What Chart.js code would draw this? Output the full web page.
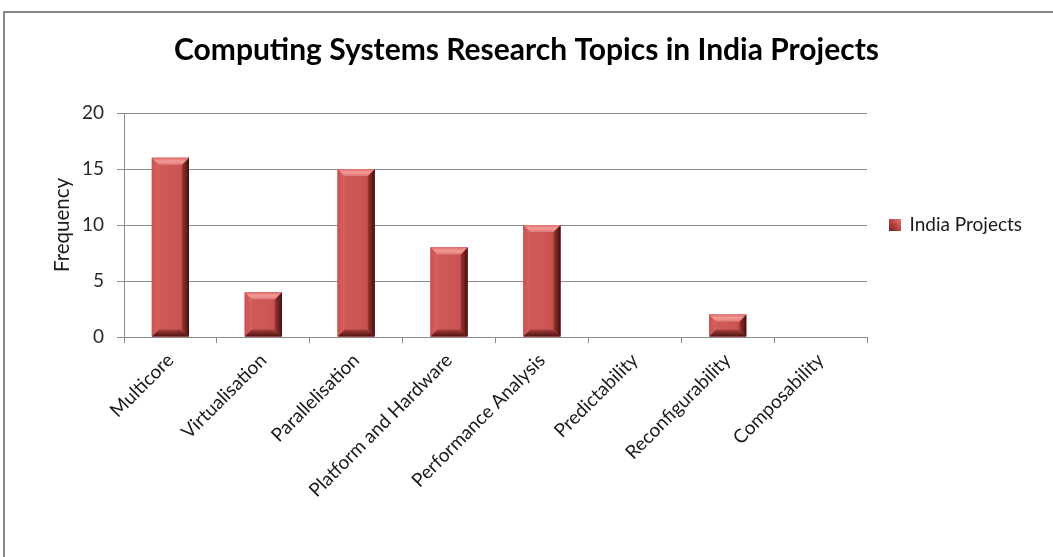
<!DOCTYPE html>
<html>
<head>
<meta charset="utf-8">
<title>Computing Systems Research Topics in India Projects</title>
<script src="https://cdn.jsdelivr.net/npm/chart.js@4/dist/chart.umd.min.js"></script>
<style>
  html, body { margin: 0; padding: 0; background: #fff; overflow: hidden; }
  #wrap { position: relative; width: 1053px; height: 557px; }
</style>
</head>
<body>
<div id="wrap"><canvas id="chart" width="1053" height="557"></canvas></div>
<script>
// Research topics and how often each appears
const topics = [
  'Multicore',
  'Virtualisation',
  'Parallelisation',
  'Platform and Hardware',
  'Performance Analysis',
  'Predictability',
  'Reconfigurability',
  'Composability'
];
const frequencies = [16, 4, 15, 8, 10, 0, 2, 0];
const seriesName = 'India Projects';
const chartTitle = 'Computing Systems Research Topics in India Projects';
const yAxisTitle = 'Frequency';
const yMin = 0, yMax = 20, yStep = 5;

const FONT = 'Lato, Carlito, Calibri, "Open Sans", sans-serif';
const LABEL_SIZE = 19;
const PLOT_LEFT = 124, PLOT_RIGHT = 867, PLOT_BOTTOM = 337;
const LEGEND_PAD = 22, LEGEND_BOX = 11;

// Width of the legend text, used to place the plot's right edge
const mctx = document.createElement('canvas').getContext('2d');
mctx.font = LABEL_SIZE + 'px ' + FONT;
const legendTextW = mctx.measureText(seriesName).width;
const legendW = LEGEND_PAD + LEGEND_BOX + LABEL_SIZE / 2 + legendTextW + 10;
// equal side padding keeps the title centred on the canvas
const sidePad = Math.max(0, 1053 - PLOT_RIGHT - legendW);

// Gradient swatch for the legend entry
function legendSwatch() {
  const s = 12;
  const c = document.createElement('canvas');
  c.width = s; c.height = s;
  const x = c.getContext('2d');
  const g = x.createLinearGradient(0, s, s, 0);
  g.addColorStop(0, '#6e2220');
  g.addColorStop(0.5, '#b8433f');
  g.addColorStop(1, '#e57a77');
  x.fillStyle = g;
  x.fillRect(0, 0, s, s);
  return c;
}

// White page with the frame lines along the top and left
const framePlugin = {
  id: 'frame',
  beforeDraw(chart) {
    const ctx = chart.ctx;
    ctx.save();
    ctx.fillStyle = '#ffffff';
    ctx.fillRect(0, 0, chart.width, chart.height);
    ctx.strokeStyle = '#878787';
    ctx.lineWidth = 2;
    ctx.beginPath();
    ctx.moveTo(4, chart.height);
    ctx.lineTo(4, 12);
    ctx.lineTo(chart.width, 12);
    ctx.stroke();
    ctx.restore();
  }
};

// Bevelled look on each bar, drawn over the bar element's own geometry
const bevelPlugin = {
  id: 'bevel',
  afterDatasetsDraw(chart) {
    const ctx = chart.ctx;
    chart.getDatasetMeta(0).data.forEach(bar => {
      const p = bar.getProps(['x', 'y', 'base', 'width'], true);
      const l = p.x - p.width / 2, r = p.x + p.width / 2;
      const t = Math.min(p.y, p.base), b = Math.max(p.y, p.base);
      const h = b - t;
      if (h < 1) return;
      const e = Math.min(7, h / 3.2);
      const quad = (pts, fill) => {
        ctx.beginPath();
        ctx.moveTo(pts[0][0], pts[0][1]);
        for (let i = 1; i < pts.length; i++) ctx.lineTo(pts[i][0], pts[i][1]);
        ctx.closePath();
        ctx.fillStyle = fill;
        ctx.fill();
      };
      ctx.save();
      // face gradient
      let g = ctx.createLinearGradient(l, 0, r, 0);
      g.addColorStop(0, '#d05d5b');
      g.addColorStop(0.7, '#cb5552');
      g.addColorStop(1, '#b94643');
      ctx.fillStyle = g;
      ctx.fillRect(l, t, r - l, h);
      // left edge
      g = ctx.createLinearGradient(l, 0, l + e, 0);
      g.addColorStop(0, '#c85250');
      g.addColorStop(1, '#d7625f');
      quad([[l, t], [l + e, t + e], [l + e, b - e], [l, b]], g);
      // right edge
      g = ctx.createLinearGradient(r - e, 0, r, 0);
      g.addColorStop(0, '#9b3532');
      g.addColorStop(0.6, '#6a1f1d');
      g.addColorStop(1, '#3a0f0e');
      quad([[r, t], [r - e, t + e], [r - e, b - e], [r, b]], g);
      // top edge
      g = ctx.createLinearGradient(0, t, 0, t + e);
      g.addColorStop(0, '#e0706d');
      g.addColorStop(0.5, '#f39a97');
      g.addColorStop(1, '#e07a77');
      quad([[l, t], [r, t], [r - e, t + e], [l + e, t + e]], g);
      // bottom edge
      g = ctx.createLinearGradient(0, b - e, 0, b);
      g.addColorStop(0, '#a8403d');
      g.addColorStop(0.5, '#7a2826');
      g.addColorStop(1, '#4d1514');
      quad([[l, b], [r, b], [r - e, b - e], [l + e, b - e]], g);
      ctx.restore();
    });
  }
};

const swatch = legendSwatch();

new Chart(document.getElementById('chart'), {
  type: 'bar',
  data: {
    labels: topics,
    datasets: [{
      label: seriesName,
      data: frequencies,
      backgroundColor: '#c9514e',
      borderWidth: 0,
      barPercentage: 0.4,
      categoryPercentage: 1.0
    }]
  },
  options: {
    responsive: false,
    devicePixelRatio: 1,
    animation: false,
    layout: { padding: { left: sidePad, top: 0, right: sidePad, bottom: 0 } },
    plugins: {
      title: {
        display: true,
        text: chartTitle,
        color: '#000',
        font: { family: FONT, size: 30, weight: 'bold' },
        padding: { top: 32, bottom: 45 }
      },
      legend: {
        position: 'right',
        fullSize: false,
        labels: {
          boxWidth: LEGEND_BOX,
          boxHeight: LEGEND_BOX,
          padding: LEGEND_PAD,
          color: '#1a1a1a',
          font: { family: FONT, size: LABEL_SIZE },
          generateLabels(chart) {
            const items = Chart.defaults.plugins.legend.labels.generateLabels(chart);
            items.forEach(it => { it.pointStyle = swatch; });
            return items;
          },
          usePointStyle: true
        }
      },
      tooltip: { enabled: false }
    },
    scales: {
      x: {
        grid: {
          offset: true,
          drawOnChartArea: false,
          color: '#8c8c8c',
          tickLength: 6
        },
        border: { color: '#8c8c8c' },
        ticks: {
          autoSkip: false,
          maxRotation: 45,
          minRotation: 45,
          padding: 6,
          color: '#1a1a1a',
          font: { family: FONT, size: LABEL_SIZE }
        },
        afterFit(s) { s.height = 557 - PLOT_BOTTOM; }
      },
      y: {
        min: yMin,
        max: yMax,
        ticks: {
          stepSize: yStep,
          padding: 13,
          color: '#2a2a2a',
          font: { family: FONT, size: LABEL_SIZE }
        },
        grid: { color: '#8c8c8c', tickLength: 7 },
        border: { color: '#8c8c8c' },
        title: {
          display: true,
          text: yAxisTitle,
          color: '#1a1a1a',
          font: { family: FONT, size: 20.5 },
          padding: { top: 50 - sidePad, bottom: 0 }
        },
        afterFit(s) { s.width = PLOT_LEFT - sidePad; }
      }
    }
  },
  plugins: [framePlugin, bevelPlugin]
});
</script>
</body>
</html>
